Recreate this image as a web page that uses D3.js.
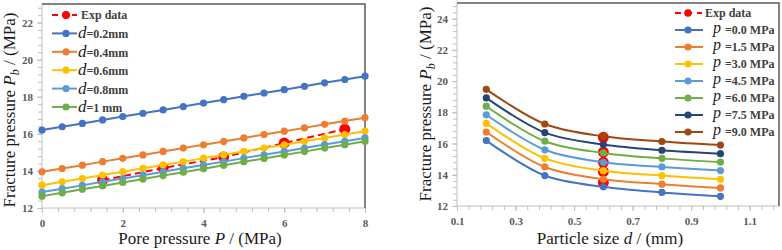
<!DOCTYPE html>
<meta charset="utf-8">
<head>
<style>
body { margin: 0; background: #fff; }
svg { display: block; }
.tick text { font-family: 'Liberation Serif', serif; font-weight: bold; font-size: 11px; fill: #595959; }
.axis path, .axis line { stroke: #bfbfbf; }
.title { font-family: 'Liberation Serif', serif; font-size: 17px; fill: #1a1a1a; }
.leg { font-family: 'Liberation Serif', serif; font-weight: bold; font-size: 12px; fill: #404040; }
</style>
</head>
<body>
<svg width="782" height="250"></svg>
<script src="https://d3js.org/d3.v7.min.js"></script>
<script>
// ---- left panel: fracture pressure vs pore pressure ----
let porePressure = [0, 0.5, 1, 1.5, 2, 2.5, 3, 3.5, 4, 4.5, 5, 5.5, 6, 6.5, 7, 7.5, 8];
let sizeNames = ['0.2mm', '0.4mm', '0.6mm', '0.8mm', '1 mm'];
let pbD02 = [16.20, 16.38, 16.56, 16.75, 16.93, 17.11, 17.29, 17.47, 17.66, 17.84, 18.02, 18.20, 18.38, 18.56, 18.75, 18.93, 19.11];
let pbD04 = [13.95, 14.13, 14.31, 14.50, 14.68, 14.86, 15.05, 15.23, 15.41, 15.59, 15.78, 15.96, 16.14, 16.32, 16.51, 16.69, 16.87];
let pbD06 = [13.23, 13.41, 13.59, 13.78, 13.96, 14.14, 14.32, 14.50, 14.69, 14.87, 15.05, 15.23, 15.41, 15.60, 15.78, 15.96, 16.14];
let pbD08 = [12.86, 13.04, 13.22, 13.41, 13.59, 13.77, 13.96, 14.14, 14.32, 14.50, 14.69, 14.87, 15.05, 15.23, 15.42, 15.60, 15.78];
let pbD10 = [12.64, 12.82, 13.01, 13.19, 13.38, 13.56, 13.75, 13.93, 14.12, 14.30, 14.49, 14.67, 14.86, 15.04, 15.23, 15.41, 15.60];
let expPore = [1.5, 3, 4.5, 6, 7.5];
let expPoreVals = [13.5, 14.15, 14.75, 15.5, 16.25];

// ---- right panel: fracture pressure vs particle size ----
let particleSize = [0.2, 0.4, 0.6, 0.8, 1.0];
let poreNames = ['0.0', '1.5', '3.0', '4.5', '6.0', '7.5', '9.0'];
let pbP00 = [16.19, 13.95, 13.23, 12.87, 12.62];
let pbP15 = [16.74, 14.50, 13.72, 13.40, 13.16];
let pbP30 = [17.29, 15.05, 14.26, 13.95, 13.71];
let pbP45 = [17.84, 15.60, 14.80, 14.50, 14.27];
let pbP60 = [18.39, 16.15, 15.40, 15.05, 14.81];
let pbP75 = [18.92, 16.70, 15.94, 15.57, 15.35];
let pbP90 = [19.47, 17.25, 16.46, 16.13, 15.90];
let expSize = [0.6, 0.6, 0.6, 0.6, 0.6];
let expSizeVals = [16.4, 15.45, 14.8, 14.2, 13.5];

let leftColors = ['#4472C4', '#ED7D31', '#FFC000', '#5B9BD5', '#70AD47'];
let rightColors = ['#4472C4', '#ED7D31', '#FFC000', '#5B9BD5', '#70AD47', '#264478', '#9E480E'];

let svg = d3.select('svg');

function yTitle(g, cx, cy, size) {
    let t = g.append('text').attr('class', 'title')
        .attr('font-size', size + 'px')
        .attr('transform', `translate(${cx}, ${cy}) rotate(-90)`)
        .attr('text-anchor', 'middle');
    t.append('tspan').text('Fracture pressure  ');
    t.append('tspan').attr('font-style', 'italic').text('P');
    t.append('tspan').attr('font-style', 'italic').attr('font-size', '12px').attr('dy', 4).text('b');
    t.append('tspan').attr('dy', -4).text(' / (MPa)');
}

function panel(opt) {
    let x = d3.scaleLinear().domain(opt.xDomain).range([opt.left, opt.right]);
    let y = d3.scaleLinear().domain(opt.yDomain).range([opt.bottom, opt.top]);
    let g = svg.append('g');

    // minor ticks
    g.append('g').attr('class', 'axis')
        .attr('transform', `translate(0, ${opt.bottom})`)
        .call(d3.axisBottom(x).tickValues(opt.xMinor).tickSize(4).tickFormat(''))
        .call(a => a.select('.domain').remove());
    g.append('g').attr('class', 'axis')
        .attr('transform', `translate(${opt.left}, 0)`)
        .call(d3.axisLeft(y).tickValues(opt.yMinor).tickSize(4).tickFormat(''))
        .call(a => a.select('.domain').remove());

    // major ticks
    g.append('g').attr('class', 'axis')
        .attr('transform', `translate(0, ${opt.bottom})`)
        .call(d3.axisBottom(x).tickValues(opt.xTicks).tickSize(5).tickPadding(6).tickFormat(opt.xFormat))
        .call(a => a.select('.domain').attr('d', `M${opt.left},0H${opt.right}`));
    g.append('g').attr('class', 'axis')
        .attr('transform', `translate(${opt.left}, 0)`)
        .call(d3.axisLeft(y).tickValues(opt.yTicks).tickSize(5).tickPadding(4))
        .call(a => a.select('.domain').attr('d', `M0,${opt.bottom}V${opt.top}`));

    // top and right frame
    g.append('path')
        .attr('d', `M${opt.left},${opt.top}H${opt.right}V${opt.bottom}`)
        .attr('fill', 'none').attr('stroke', '#595959').attr('stroke-width', 1.5);

    // experimental points
    let expPts = opt.expX.map((v, i) => [v, opt.expY[i]]);
    if (opt.expLine) {
        g.append('path').datum(expPts)
            .attr('d', d3.line().x(d => x(d[0])).y(d => y(d[1])))
            .attr('fill', 'none').attr('stroke', '#FF0000').attr('stroke-width', 2)
            .attr('stroke-dasharray', '7,4');
    }
    g.selectAll('.exp').data(expPts).enter().append('circle')
        .attr('cx', d => x(d[0])).attr('cy', d => y(d[1])).attr('r', 5.5)
        .attr('fill', '#FF0000');

    // model series
    let line = d3.line().x(d => x(d[0])).y(d => y(d[1])).curve(opt.curve);
    opt.series.forEach((vals, i) => {
        let pts = opt.xs.map((v, j) => [v, vals[j]]);
        g.append('path').datum(pts).attr('d', line)
            .attr('fill', 'none').attr('stroke', opt.colors[i]).attr('stroke-width', 2);
        g.selectAll(null).data(pts).enter().append('circle')
            .attr('cx', d => x(d[0])).attr('cy', d => y(d[1])).attr('r', 3.6)
            .attr('fill', opt.colors[i]);
    });
    return g;
}

// left
panel({
    xDomain: [0, 8], yDomain: [12, 23],
    left: 42, right: 365, top: 4, bottom: 208,
    xTicks: [0, 2, 4, 6, 8], yTicks: [12, 14, 16, 18, 20, 22],
    xMinor: d3.range(0, 8.01, 0.4), yMinor: d3.range(12, 23.01, 0.4),
    xFormat: d3.format('d'),
    xs: porePressure, series: [pbD02, pbD04, pbD06, pbD08, pbD10], colors: leftColors,
    expX: expPore, expY: expPoreVals, expLine: true,
    curve: d3.curveLinear
});

// right
panel({
    xDomain: [0.1, 1.2], yDomain: [12, 25],
    left: 457, right: 779, top: 3, bottom: 206,
    xTicks: [0.1, 0.3, 0.5, 0.7, 0.9, 1.1], yTicks: [12, 14, 16, 18, 20, 22, 24],
    xMinor: d3.range(0.1, 1.201, 0.04), yMinor: d3.range(12, 25.01, 0.4),
    xFormat: d3.format('.1f'),
    xs: particleSize, series: [pbP00, pbP15, pbP30, pbP45, pbP60, pbP75, pbP90], colors: rightColors,
    expX: expSize, expY: expSizeVals, expLine: false,
    curve: d3.curveCatmullRom.alpha(0.5)
});

// axis titles
let tl = svg.append('text').attr('class', 'title').attr('x', 200).attr('y', 244).attr('text-anchor', 'middle');
tl.append('tspan').text('Pore pressure  ');
tl.append('tspan').attr('font-style', 'italic').text('P');
tl.append('tspan').text(' / (MPa)');
yTitle(svg, 15, 110, 17.5);

let tr = svg.append('text').attr('class', 'title').attr('x', 610).attr('y', 244).attr('text-anchor', 'middle');
tr.append('tspan').text('Particle size  ');
tr.append('tspan').attr('font-style', 'italic').text('d');
tr.append('tspan').text(' / (mm)');
yTitle(svg, 431, 104, 17);

// left legend
let legL = svg.append('g');
let rowsL = [{ exp: true, label: 'Exp data' }].concat(sizeNames.map((n, i) => ({ color: leftColors[i], label: n })));
rowsL.forEach((r, i) => {
    let yy = 15 + i * 18.4;
    let row = legL.append('g').attr('transform', `translate(0, ${yy})`);
    if (r.exp) {
        row.append('line').attr('x1', 52).attr('x2', 77).attr('y1', 0).attr('y2', 0)
            .attr('stroke', '#FF0000').attr('stroke-width', 2).attr('stroke-dasharray', '6,4');
        row.append('circle').attr('cx', 66).attr('cy', 0).attr('r', 4).attr('fill', '#FF0000');
        row.append('text').attr('class', 'leg').attr('x', 81).attr('y', 4).text(r.label);
    } else {
        row.append('line').attr('x1', 52).attr('x2', 77).attr('y1', 0).attr('y2', 0)
            .attr('stroke', r.color).attr('stroke-width', 2);
        row.append('circle').attr('cx', 66).attr('cy', 0).attr('r', 3.6).attr('fill', r.color);
        let t = row.append('text').attr('class', 'leg').attr('x', 78).attr('y', 5);
        t.append('tspan').attr('font-style', 'italic').attr('font-weight', 'normal')
            .attr('font-size', '17px').attr('fill', '#222').text('d');
        t.append('tspan').text('=' + r.label);
    }
});

// right legend
let legR = svg.append('g');
let rowsR = [{ exp: true, label: 'Exp data' }].concat(poreNames.map((n, i) => ({ color: rightColors[i], label: n })));
rowsR.forEach((r, i) => {
    let yy = 13 + i * 17;
    let row = legR.append('g').attr('transform', `translate(0, ${yy})`);
    if (r.exp) {
        row.append('line').attr('x1', 675).attr('x2', 702).attr('y1', 0).attr('y2', 0)
            .attr('stroke', '#FF0000').attr('stroke-width', 2).attr('stroke-dasharray', '6,5');
        row.append('circle').attr('cx', 688).attr('cy', 0).attr('r', 3.8).attr('fill', '#FF0000');
        row.append('text').attr('class', 'leg').attr('x', 705).attr('y', 4).text(r.label);
    } else {
        row.append('line').attr('x1', 675).attr('x2', 703).attr('y1', 0).attr('y2', 0)
            .attr('stroke', r.color).attr('stroke-width', 2);
        row.append('circle').attr('cx', 688).attr('cy', 0).attr('r', 3.6).attr('fill', r.color);
        let t = row.append('text').attr('class', 'leg').attr('x', 713).attr('y', 3).attr('font-size', '11px');
        t.append('tspan').attr('font-style', 'italic').attr('font-weight', 'normal')
            .attr('font-size', '16px').attr('fill', '#222').text('p');
        t.append('tspan').attr('dx', 4).attr('dy', 1).text('=' + r.label + ' MPa');
    }
});
</script>
</body>
</html>
